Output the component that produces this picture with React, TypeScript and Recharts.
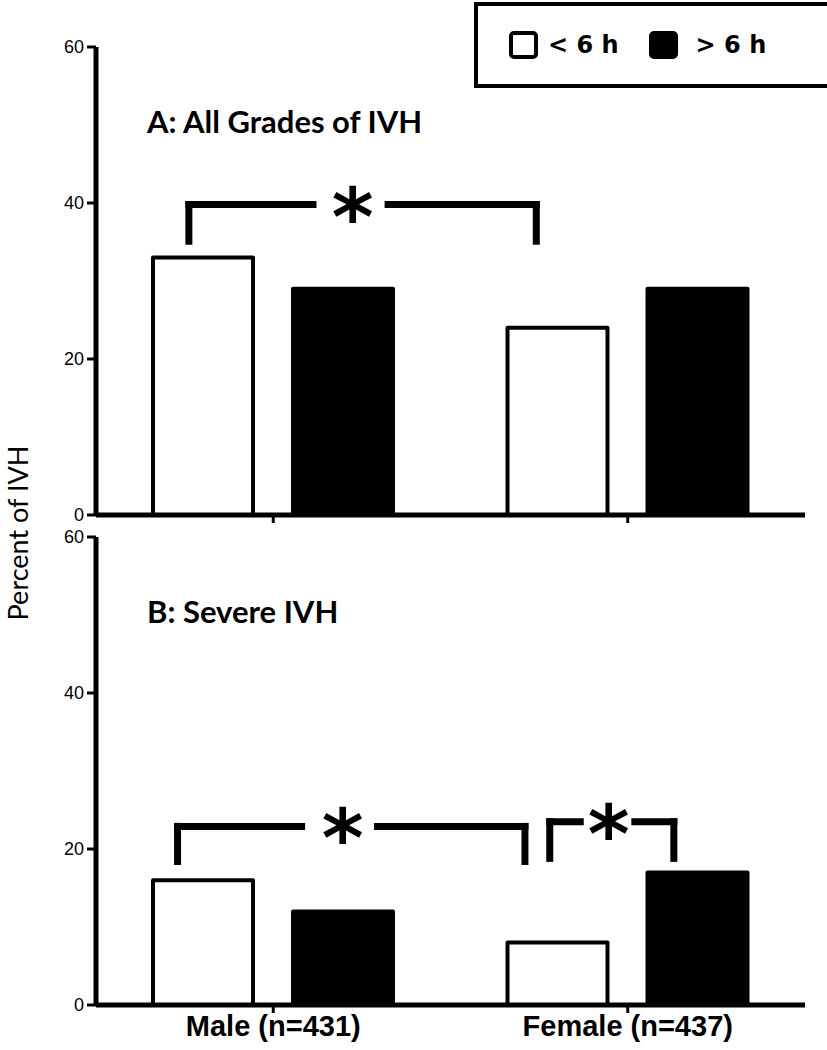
import { BarChart, Bar, XAxis, YAxis, ReferenceLine, ReferenceDot } from "recharts";

const groups = ["Male (n=431)", "Female (n=437)"];
const seriesNames = ["< 6 h", "> 6 h"];
const allGradesLt6 = [33, 24];
const allGradesGt6 = [29, 29];
const severeLt6 = [16, 8];
const severeGt6 = [12, 17];
const yTicks = [0, 20, 40, 60];

// significance brackets; x as a fraction of the x axis (0..1), y in percent
const bracketsA = [
  { from: 0.131, to: 0.621, top: 39.8, foot: 35.1, gapL: 0.306, gapR: 0.412, star: 0.362 },
];
const bracketsB = [
  { from: 0.115, to: 0.605, top: 22.9, foot: 18.4, gapL: 0.29, gapR: 0.397, star: 0.348 },
  { from: 0.64, to: 0.815, top: 23.5, foot: 18.8, gapL: 0.683, gapR: 0.76, star: 0.723 },
];

interface Bracket {
  from: number;
  to: number;
  top: number;
  foot: number;
  gapL: number;
  gapR: number;
  star: number;
}

const AXIS = { stroke: "#000", strokeWidth: 5 };
const TICKLINE = { stroke: "#000", strokeWidth: 3 };

function renderBracket(b: Bracket, key: number) {
  const segs = [
    [{ x: b.from, y: b.foot }, { x: b.from, y: b.top }],
    [{ x: b.from, y: b.top }, { x: b.gapL, y: b.top }],
    [{ x: b.gapR, y: b.top }, { x: b.to, y: b.top }],
    [{ x: b.to, y: b.top }, { x: b.to, y: b.foot }],
  ];
  return [
    ...segs.map((s, i) => (
      <ReferenceLine
        key={`l${key}-${i}`}
        xAxisId="pos"
        segment={s}
        stroke="#000"
        strokeWidth={7}
        strokeLinecap="square"
        ifOverflow="visible"
      />
    )),
    <ReferenceDot
      key={`s${key}`}
      xAxisId="pos"
      x={b.star}
      y={b.top}
      r={0}
      ifOverflow="visible"
      // eslint-disable-next-line @typescript-eslint/no-explicit-any
      shape={(p: any) => (
        <text
          x={p.cx}
          y={p.cy}
          dy="0.5em"
          textAnchor="middle"
          fontFamily="DejaVu Sans"
          fontWeight={700}
          fontSize={80}
          fill="#000"
        >
          *
        </text>
      )}
    />,
  ];
}

function Panel({
  lt6,
  gt6,
  brackets,
  top,
  showLabels,
}: {
  lt6: number[];
  gt6: number[];
  brackets: Bracket[];
  top: number;
  showLabels: boolean;
}) {
  const data = groups.map((g, i) => ({ group: g, lt6: lt6[i], gt6: gt6[i] }));
  return (
    <div style={{ position: "absolute", left: 0, top }}>
      <BarChart
        width={827}
        height={530}
        data={data}
        barGap={40}
        margin={{ top: showLabels ? 17 : 47, right: 22, left: 36, bottom: 0 }}
      >
        <XAxis
          dataKey="group"
          axisLine={AXIS}
          tickLine={TICKLINE}
          tickSize={8}
          tickMargin={2}
          height={showLabels ? 45 : 15}
          tickFormatter={(v) => (showLabels ? v : "")}
          tick={{ fill: "#000", fontSize: 29, fontWeight: 700, fontFamily: "Liberation Sans" }}
        />
        <XAxis xAxisId="pos" type="number" domain={[0, 1]} allowDataOverflow hide />
        <YAxis
          domain={[0, 60]}
          ticks={yTicks}
          width={60}
          axisLine={AXIS}
          tickLine={TICKLINE}
          tickSize={9}
          tickMargin={3}
          tick={{ fill: "#000", fontSize: 18, fontFamily: "Liberation Sans" }}
        />
        <Bar
          dataKey="lt6"
          name={seriesNames[0]}
          fill="#fff"
          stroke="#000"
          strokeWidth={4}
          strokeLinejoin="round"
          barSize={100}
          isAnimationActive={false}
        />
        <Bar
          dataKey="gt6"
          name={seriesNames[1]}
          fill="#000"
          stroke="#000"
          strokeWidth={4}
          strokeLinejoin="round"
          barSize={100}
          isAnimationActive={false}
        />
        {brackets.map((b, i) => renderBracket(b, i))}
      </BarChart>
    </div>
  );
}

function LegendBox() {
  const fills = ["#fff", "#000"];
  return (
    <div
      style={{
        position: "absolute",
        left: 474,
        top: 2,
        width: 341,
        height: 78,
        border: "4px solid #000",
        background: "#fff",
        display: "flex",
        alignItems: "center",
        paddingLeft: 31,
        fontFamily: "DejaVu Sans",
        fontWeight: 700,
        fontSize: 24,
      }}
    >
      {seriesNames.map((n, i) => (
        <span key={n} style={{ display: "flex", alignItems: "center", marginRight: 30 }}>
          <span
            style={{
              display: "inline-block",
              width: 21,
              height: 20,
              border: "4px solid #000",
              borderRadius: 5,
              background: fills[i],
              marginRight: i === 0 ? 10 : 18,
            }}
          />
          <span>{n.replace(/ /g, "\u00a0")}</span>
        </span>
      ))}
    </div>
  );
}

export default function App() {
  return (
    <div style={{ position: "absolute", left: 0, top: 0, width: 827, height: 1050, background: "#fff" }}>
      <Panel lt6={allGradesLt6} gt6={allGradesGt6} brackets={bracketsA} top={0} showLabels={false} />
      <Panel lt6={severeLt6} gt6={severeGt6} brackets={bracketsB} top={520} showLabels={true} />
      <svg
        width={827}
        height={1050}
        style={{ position: "absolute", left: 0, top: 0, pointerEvents: "none" }}
      >
        <text x={147} y={133} fontFamily="Lato" fontWeight={700} fontSize={31} fill="#000">
          A: All Grades of IVH
        </text>
        <text x={147} y={623} fontFamily="Lato" fontWeight={700} fontSize={31} fill="#000">
          B: Severe IVH
        </text>
        <text
          transform="translate(28, 533) rotate(-90)"
          textAnchor="middle"
          fontFamily="Lato"
          fontSize={27}
          fill="#000"
        >
          Percent of IVH
        </text>
      </svg>
      <LegendBox />
    </div>
  );
}
